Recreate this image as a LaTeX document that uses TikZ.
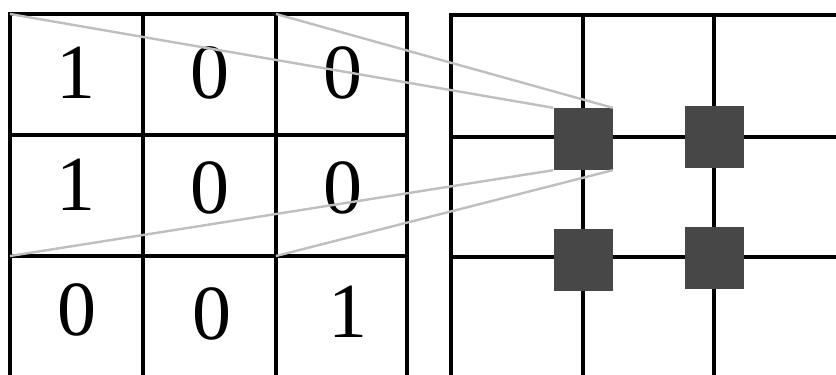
\documentclass[tikz,border=0pt]{standalone}
\usepackage{fontspec}
\setmainfont{Liberation Serif}
\usetikzlibrary{positioning}
\tikzset{
  gridline/.style={line width=3.6pt,black},
  rayline/.style={line width=2.4pt,gray!50},
  pix/.style={draw=none,fill=black!72,minimum width=59pt,minimum height=62pt,inner sep=0pt},
  digit/.style={font=\fontsize{78}{80}\selectfont,inner sep=0pt}
}
\begin{document}
\begin{tikzpicture}[x=1pt,y=-1pt]
\useasboundingbox (0,0) rectangle (836,375);
\clip (0,0) rectangle (836,375);
% input grid
\draw[gridline] (10,14) rectangle (407,382);
\foreach \x in {143,276} \draw[gridline] (\x,14) -- (\x,382);
\foreach \y in {135,256} \draw[gridline] (10,\y) -- (407,\y);
\foreach \n/\x/\y/\v in {a1/76/73/1,a2/210/73/0,a3/343/73/0,
                         b1/76/185/1,b2/210/188/0,b3/343/188/0,
                         c1/77/310/0,c2/212/314/0,c3/348/312/1}
  \node[digit] (\n) at (\x,\y) {\v};
% window corners
\coordinate (w-nw) at (10,14);
\coordinate (w-ne) at (276,14);
\coordinate (w-sw) at (10,256);
\coordinate (w-se) at (276,256);
% output grid
\draw[gridline] (451,382) -- (451,15) -- (840,15);
\foreach \x in {583,714} \draw[gridline] (\x,15) -- (\x,382);
\foreach \y in {137,257} \draw[gridline] (451,\y) -- (840,\y);
\foreach \n/\x/\y in {p11/583/139,p12/714/137,p21/583/260,p22/714/258}
  \node[pix] (\n) at (\x,\y) {};
% rays
\draw[rayline] (w-nw) -- (p11.north west);
\draw[rayline] (w-ne) -- (p11.north east);
\draw[rayline] (w-sw) -- (p11.south west);
\draw[rayline] (w-se) -- (p11.south east);
\end{tikzpicture}
\end{document}
